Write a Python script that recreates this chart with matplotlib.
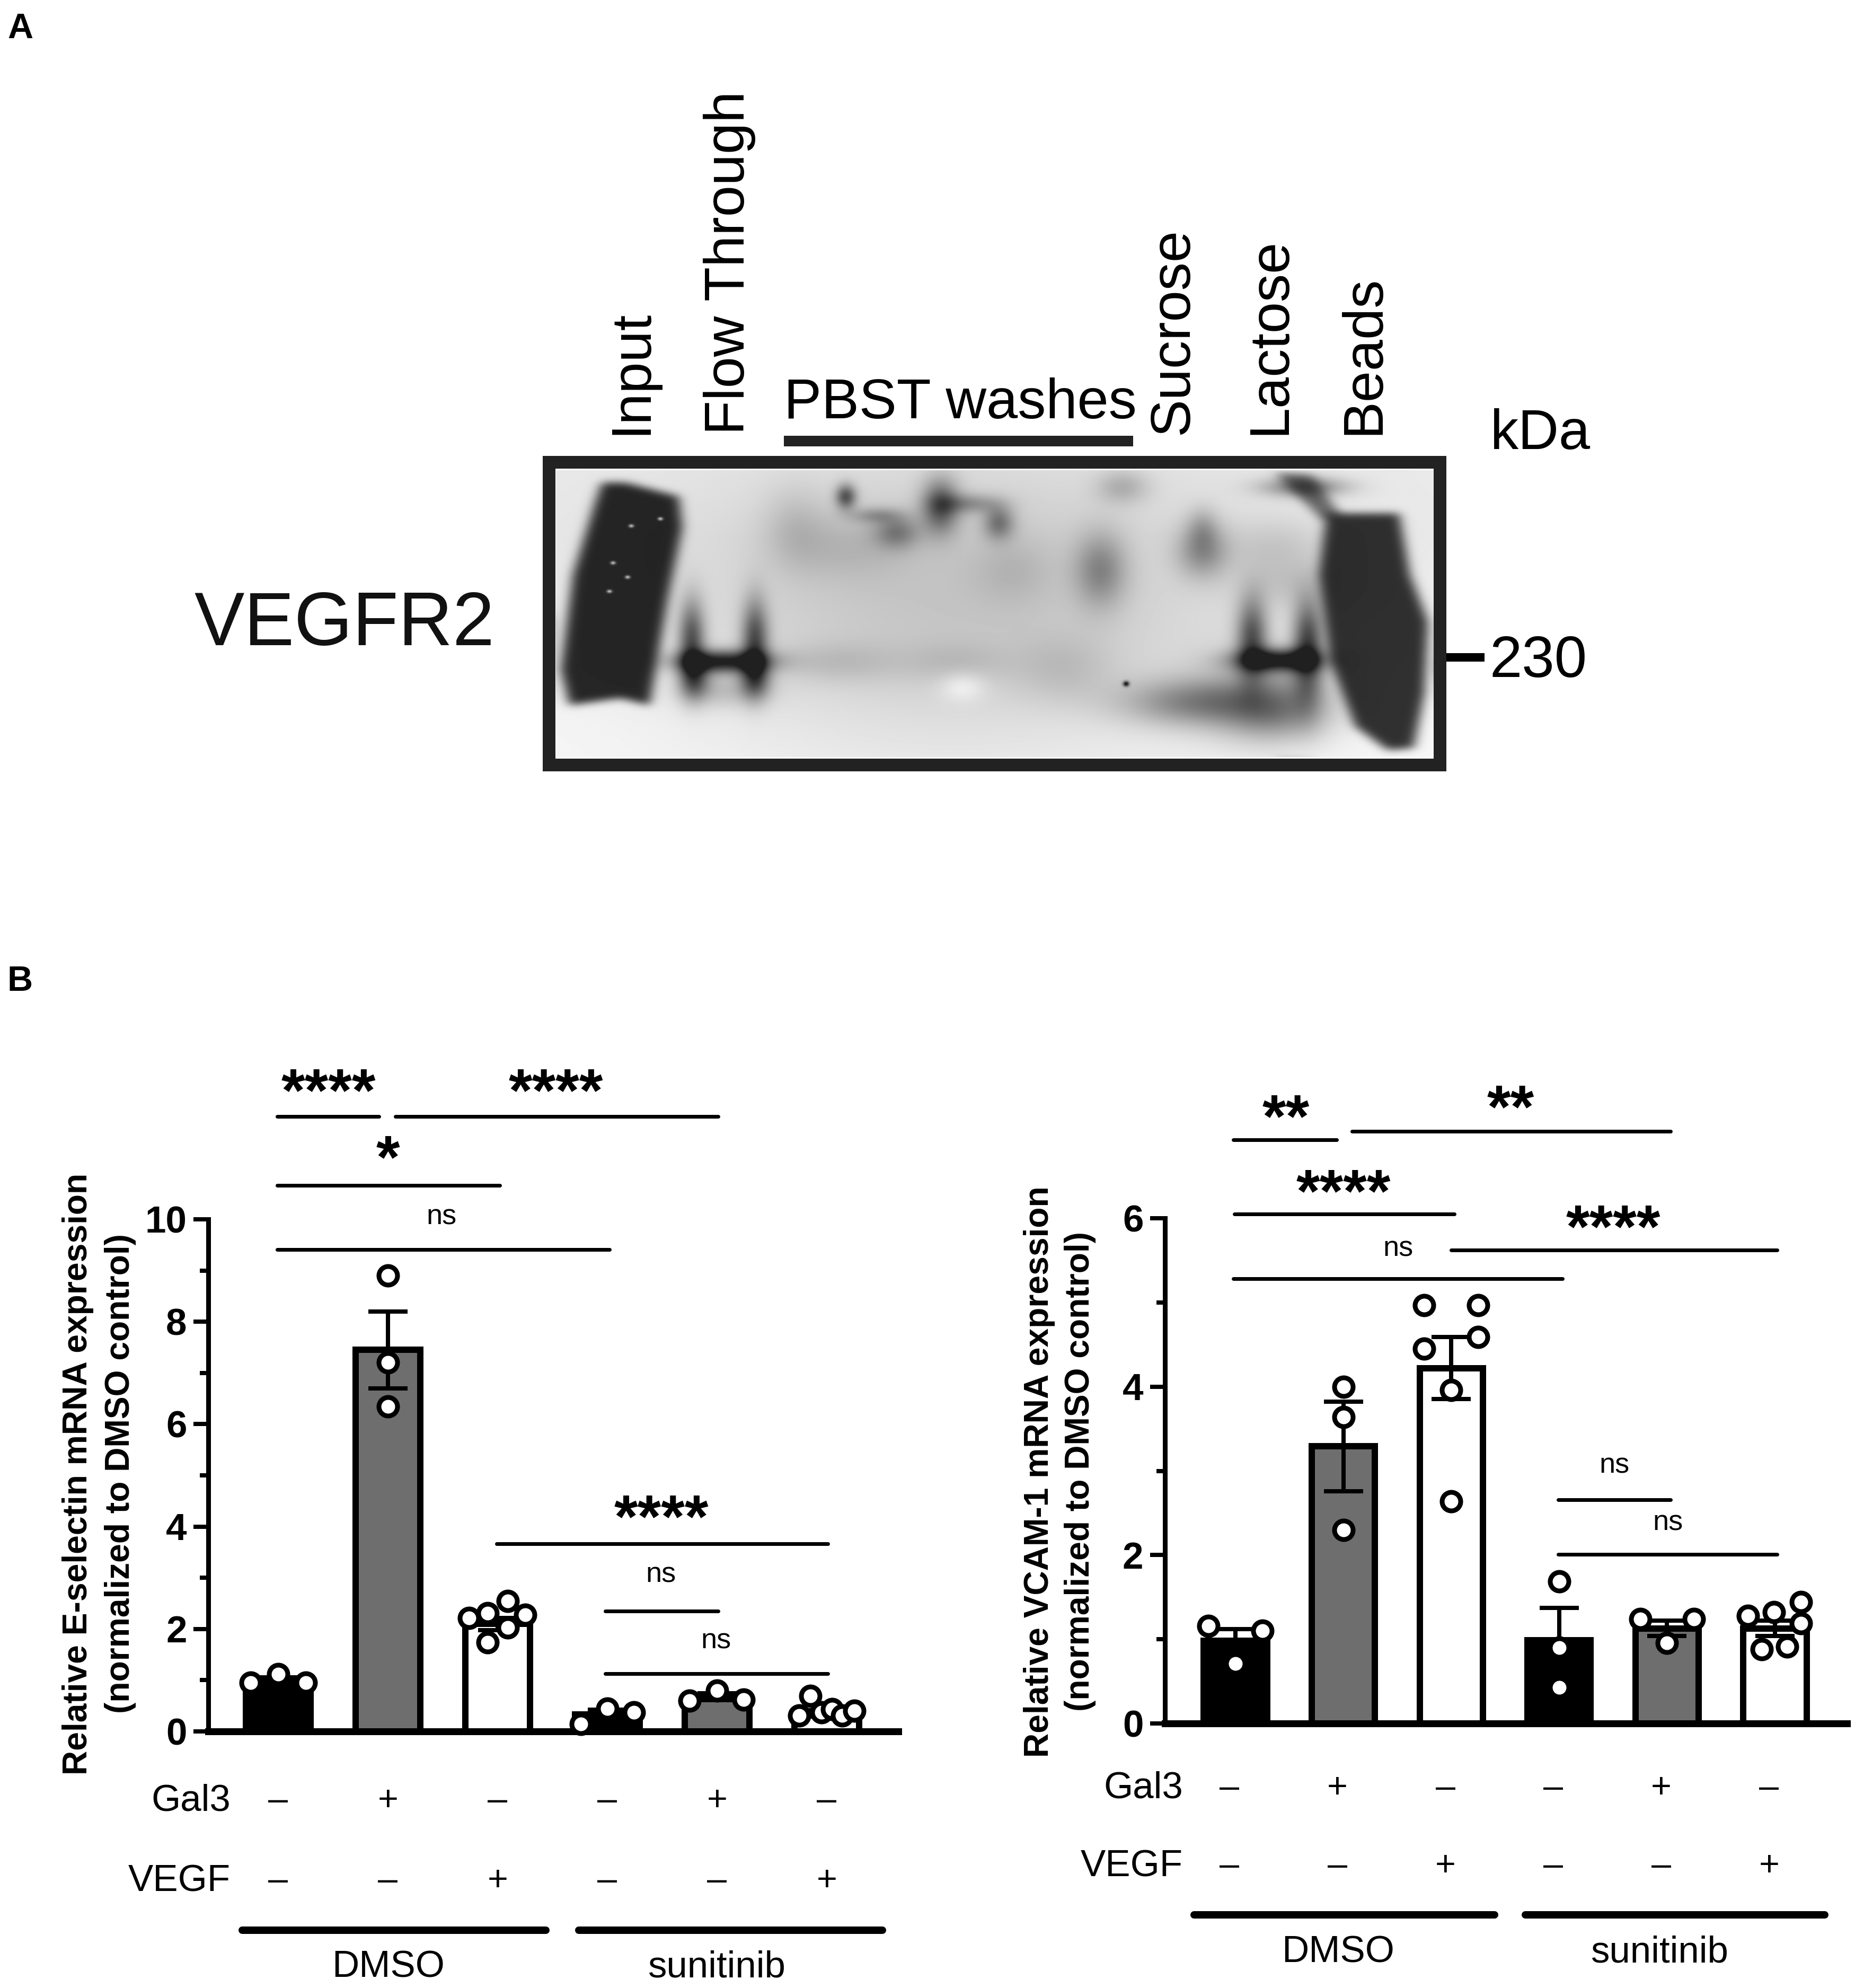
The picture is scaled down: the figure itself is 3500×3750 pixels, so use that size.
import numpy as np
import matplotlib
matplotlib.use("Agg")
import matplotlib.pyplot as plt
from matplotlib.path import Path
from matplotlib.patches import Rectangle

plt.rcParams["font.family"] = ["Liberation Sans", "DejaVu Sans"]

W, H = 3500, 3750
DPI = 300
PX = 72 / DPI  # one pixel in points

# panel B, left: E-selectin
esel_means = [1.0, 7.45, 2.1, 0.33, 0.68, 0.35]
esel_sem = [0.06, 0.75, 0.12, 0.09, 0.07, 0.06]
esel_points = [
    [0.95, 1.12, 0.95],
    [6.35, 7.2, 8.9],
    [2.22, 2.31, 2.55, 2.28, 2.03, 1.74],
    [0.14, 0.45, 0.37],
    [0.6, 0.8, 0.62],
    [0.31, 0.69, 0.37, 0.43, 0.31, 0.4],
]
esel_offsets = [
    [-0.25, 0, 0.25],
    [0, 0, 0],
    [-0.26, -0.09, 0.09, 0.25, 0.09, -0.09],
    [-0.24, 0, 0.24],
    [-0.25, 0, 0.24],
    [-0.25, -0.15, -0.05, 0.05, 0.14, 0.25],
]
esel_sig = [
    (-0.01, 0.92, 12.01, "****", 0.46, 12.63),
    (1.07, 4.01, 12.01, "****", 2.53, 12.63),
    (-0.01, 2.02, 10.66, "*", 1.0, 11.32),
    (-0.01, 3.02, 9.41, "ns", 1.49, 10.05),
    (1.99, 5.01, 3.66, "****", 3.49, 4.31),
    (2.98, 4.01, 2.35, "ns", 3.49, 3.06),
    (2.98, 5.01, 1.13, "ns", 3.99, 1.76),
]

# panel B, right: VCAM-1
vcam_means = [0.98, 3.29, 4.22, 0.99, 1.13, 1.13]
vcam_sem = [0.14, 0.53, 0.37, 0.38, 0.09, 0.09]
vcam_points = [
    [1.16, 0.71, 1.1],
    [2.3, 3.64, 4.0],
    [4.97, 4.45, 3.96, 2.64, 4.59, 4.97],
    [0.43, 0.9, 1.69],
    [1.24, 0.96, 1.24],
    [1.28, 0.88, 1.32, 0.91, 1.44, 1.19],
]
vcam_offsets = [
    [-0.25, 0, 0.25],
    [0, 0, 0],
    [-0.25, -0.25, 0, 0, 0.25, 0.25],
    [0, 0, 0],
    [-0.25, 0, 0.25],
    [-0.25, -0.125, -0.01, 0.115, 0.24, 0.24],
]
vcam_sig = [
    (-0.02, 0.94, 6.93, "**", 0.47, 7.28),
    (1.08, 4.03, 7.03, "**", 2.55, 7.39),
    (-0.01, 2.03, 6.05, "****", 1.0, 6.39),
    (2.0, 5.02, 5.62, "****", 3.5, 5.97),
    (-0.02, 3.03, 5.28, "ns", 1.51, 5.64),
    (2.99, 4.03, 2.66, "ns", 3.51, 3.06),
    (2.99, 5.02, 2.01, "ns", 4.01, 2.38),
]

gal3_signs = ["–", "+", "–", "–", "+", "–"]
vegf_signs = ["–", "–", "+", "–", "–", "+"]
bar_faces = ["black", "#6e6e6e", "white", "black", "#6e6e6e", "white"]

# blot shapes, in pixels of a 2150 wide crop of the gel
BLOT_BANDS = [
    ([(135, 905), (165, 905), (240, 935), (245, 1000), (225, 1150), (200, 1375), (160, 1360),
      (90, 1375), (78, 1300), (95, 1100), (125, 950)], 0.84),
    ([(1130, 970), (1230, 970), (1245, 1100), (1270, 1200), (1265, 1350), (1250, 1465),
      (1215, 1470), (1170, 1420), (1135, 1280), (1120, 1100)], 0.8),
    ([(1060, 885), (1110, 890), (1150, 975), (1125, 985)], 0.55),
]
BLOT_BLOBS = [
    (620, 1180, 280, 220, 0.17), (460, 1285, 60, 30, 0.1), (620, 1285, 50, 30, 0.08),
    (470, 935, 10, 18, 0.5), (600, 955, 18, 40, 0.5), (540, 1010, 22, 25, 0.3),
    (680, 990, 15, 25, 0.35), (510, 975, 25, 12, 0.2), (640, 950, 30, 15, 0.25),
    (820, 1090, 25, 55, 0.3), (960, 1050, 25, 40, 0.3), (960, 1000, 15, 30, 0.15),
    (950, 1370, 70, 35, 0.35), (1060, 1400, 50, 40, 0.2), (470, 1040, 60, 50, 0.1),
    (400, 1000, 30, 60, 0.1), (700, 1090, 40, 50, 0.08), (850, 915, 25, 25, 0.18),
    (770, 1300, 50, 50, 0.1), (630, 1335, 22, 22, -0.12),
    (1100, 915, 40, 15, 0.4), (1020, 1350, 70, 70, 0.1), (1060, 1040, 50, 40, 0.1),
    (1080, 1120, 50, 40, 0.12), (855, 1330, 3, 4, 0.7),
    # Flow Through
    (300, 1283, 45, 17, 0.75), (258, 1240, 13, 60, 0.55), (345, 1240, 13, 60, 0.55),
    (262, 1320, 15, 30, 0.4), (345, 1320, 15, 30, 0.4), (300, 1345, 40, 25, 0.15),
    # Lactose
    (1065, 1280, 42, 17, 0.75), (1028, 1235, 15, 60, 0.55), (1105, 1235, 15, 60, 0.55),
    (1065, 1360, 55, 50, 0.2), (1105, 1320, 15, 60, 0.2),
]
BLOT_SPECKS = [(175, 997), (215, 982), (150, 1075), (170, 1105), (145, 1135)]


def blur(a, sigma):
    # гаусове розмиття через FFT
    fy = np.fft.fftfreq(a.shape[0])[:, None]
    fx = np.fft.rfftfreq(a.shape[1])[None, :]
    kernel = np.exp(-2 * (np.pi * sigma) ** 2 * (fx ** 2 + fy ** 2))
    return np.fft.irfft2(np.fft.rfft2(a) * kernel, s=a.shape)


def make_blot():
    xx, yy = np.meshgrid(np.arange(72, 1278), np.arange(880, 1485))
    img = 0.97 - 0.05 * np.clip((1420 - yy) / 400, 0, 1)
    for cx, cy, sx, sy, d in BLOT_BLOBS:
        img -= d * np.exp(-((xx - cx) / sx) ** 2 / 2 - ((yy - cy) / sy) ** 2 / 2)
    pts = np.column_stack([xx.ravel(), yy.ravel()])
    for poly, d in BLOT_BANDS:
        mask = Path(poly).contains_points(pts).reshape(xx.shape).astype(float)
        img = img * (1 - blur(mask, 8) * d)
    for cx, cy in BLOT_SPECKS:
        img += 0.6 * np.exp(-((xx - cx) ** 2 + (yy - cy) ** 2) / 12.0)
    return np.clip(img, 0.13, 1)


def bar_panel(fig, ax0, box, x0, dx, bar_w, means, sem, points, offsets, sig, ymax, major, minor,
              ylabels, ylabel_x, label_y, sign_x0, sign_ys, row_right, groups, group_y, group_text_y):
    left, right, top, bottom = box
    ax = fig.add_axes([left / W, 1 - bottom / H, (right - left) / W, (bottom - top) / H])
    ax.patch.set_alpha(0)
    xs = np.arange(6)
    ax.set_xlim((left - x0) / dx, (right - x0) / dx)
    ax.set_ylim(0, ymax)

    ax.bar(xs, means, width=bar_w, color=bar_faces, edgecolor="black", linewidth=12 * PX, zorder=2)
    ax.errorbar(xs, means, yerr=sem, fmt="none", ecolor="black", elinewidth=8 * PX,
                capsize=37 * PX, capthick=8 * PX, zorder=3, clip_on=False)
    for i, vals in enumerate(points):
        ax.plot(xs[i] + np.array(offsets[i]), vals, "o", mfc="white", mec="black", ms=35 * PX, mew=9 * PX,
                zorder=4, clip_on=False)

    for a, b, y, label, tx, ty in sig:
        ax.plot([a, b], [y, y], color="black", lw=7 * PX, clip_on=False, solid_capstyle="round")
        if label == "ns":
            ax.text(tx, ty, label, ha="center", va="center", fontsize=13, clip_on=False)
        else:
            # зірочки сидять високо в рядку, тому зсув униз
            ax.annotate(label, (tx, ty), xytext=(0, -19 * PX), textcoords="offset points",
                        ha="center", va="center", fontsize=27.5, fontweight="bold", annotation_clip=False)

    for s in ["top", "right"]:
        ax.spines[s].set_visible(False)
    ax.spines["left"].set_linewidth(9 * PX)
    ax.spines["bottom"].set_linewidth(13 * PX)
    ax.set_xticks([])
    ax.set_yticks(major)
    ax.set_yticks(minor, minor=True)
    ax.tick_params(axis="y", which="major", length=28 * PX, width=8 * PX, labelsize=17, pad=3)
    ax.tick_params(axis="y", which="minor", length=16 * PX, width=8 * PX)
    for t in ax.get_yticklabels():
        t.set_fontweight("bold")

    ax0.text(ylabel_x[0], label_y, ylabels[0], rotation=90, ha="center", va="center", fontsize=15.4, fontweight="bold")
    ax0.text(ylabel_x[1], label_y, ylabels[1], rotation=90, ha="center", va="center", fontsize=15.4, fontweight="bold")

    ax0.text(row_right, sign_ys[0], "Gal3", ha="right", va="center", fontsize=17)
    ax0.text(row_right, sign_ys[1], "VEGF", ha="right", va="center", fontsize=17)
    for i in range(6):
        ax0.text(sign_x0 + i * dx, sign_ys[0], gal3_signs[i], ha="center", va="center", fontsize=16)
        ax0.text(sign_x0 + i * dx, sign_ys[1], vegf_signs[i], ha="center", va="center", fontsize=16)
    for (a, b, label, cx) in groups:
        ax0.plot([a, b], [group_y, group_y], color="black", lw=14 * PX, solid_capstyle="round")
        ax0.text(cx, group_text_y, label, ha="center", va="center", fontsize=17)
    return ax


fig = plt.figure(figsize=(W / DPI, H / DPI), dpi=DPI)
ax0 = fig.add_axes([0, 0, 1, 1])
ax0.set_xlim(0, W)
ax0.set_ylim(H, 0)
ax0.axis("off")

ax0.text(14, 55, "A", ha="left", va="center", fontsize=16, fontweight="bold")
ax0.text(14, 1852, "B", ha="left", va="center", fontsize=16, fontweight="bold")

# панель A: блот
ax0.imshow(make_blot(), cmap="gray", vmin=0, vmax=1, extent=(1049, 2705, 1428, 887), aspect="auto", zorder=1)
ax0.add_patch(Rectangle((1036, 872), 1681, 571, fill=False, ec="#222222", lw=24 * PX, zorder=2))
ax0.set_xlim(0, W)
ax0.set_ylim(H, 0)

for x, label in [(1192, "Input"), (1376, "Flow Through"), (2214, "Sucrose"), (2397, "Lactose"), (2574, "Beads")]:
    ax0.text(x, 820, label, rotation=90, ha="center", va="bottom", fontsize=25.5)
ax0.text(1812, 762, "PBST washes", ha="center", va="center", fontsize=25.5)
ax0.plot([1479, 2138], [832, 832], color="#222222", lw=20 * PX, solid_capstyle="butt")
ax0.text(2812, 820, "kDa", ha="left", va="center", fontsize=25.5)
ax0.text(2810, 1249, "230", ha="left", va="center", fontsize=26.5)
ax0.plot([2729, 2801], [1240, 1240], color="black", lw=16 * PX, solid_capstyle="butt")
ax0.text(366, 1180, "VEGFR2", ha="left", va="center", fontsize=34, color="#111111")

bar_panel(fig, ax0, (393, 1695, 2300, 3266), 525, 207, 0.594,
          esel_means, esel_sem, esel_points, esel_offsets, esel_sig, 10, [0, 2, 4, 6, 8, 10], [1, 3, 5, 7, 9],
          ("Relative E-selectin mRNA expression", "(normalized to DMSO control)"), (147, 227), 2780,
          525, (3398, 3549), 435,
          [(457, 1030, "DMSO", 733), (1092, 1665, "sunitinib", 1353)], 3641, 3711)

bar_panel(fig, ax0, (2198, 3485, 2298, 3251), 2331, 203.6, 0.585,
          vcam_means, vcam_sem, vcam_points, vcam_offsets, vcam_sig, 6, [0, 2, 4, 6], [1, 3, 5],
          ("Relative VCAM-1 mRNA expression", "(normalized to DMSO control)"), (1961, 2038), 2776,
          2320, (3374, 3521), 2232,
          [(2253, 2820, "DMSO", 2525), (2878, 3443, "sunitinib", 3132)], 3612, 3683)

fig.savefig("out.png", dpi=DPI, facecolor="white")
